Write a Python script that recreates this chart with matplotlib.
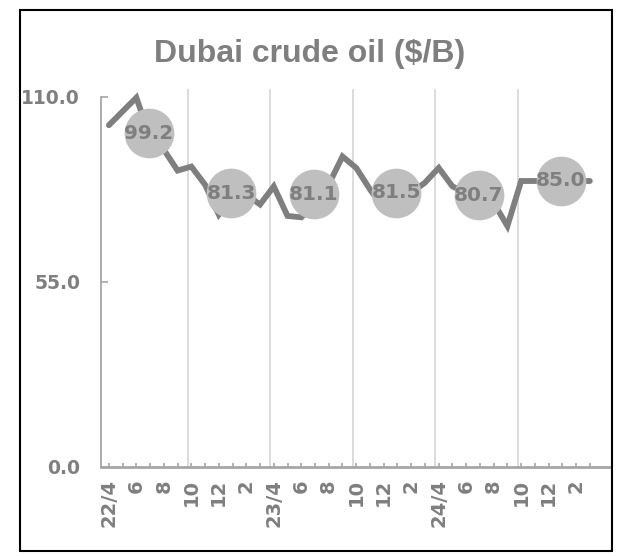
import matplotlib
matplotlib.use("Agg")
import matplotlib.pyplot as plt
from matplotlib.patches import Rectangle

# monthly Dubai crude, Apr 2022 .. Mar 2025 ($/B)
prices = [101.6, 105.7, 109.8, 98.0, 94.3, 88.1,
          89.3, 83.9, 75.0, 80.5, 81.0, 78.0,
          83.4, 74.6, 74.2, 78.0, 84.0, 92.3,
          88.9, 82.5, 76.8, 77.5, 81.5, 84.5,
          88.9, 83.4, 81.5, 81.5, 78.5, 71.6,
          85.0, 85.0, 85.0, 85.0, 85.0, 85.0]

# half-year averages
half_avg = [99.2, 81.3, 81.1, 81.5, 80.7, 85.0]

month_labels = ["22/4", "6", "8", "10", "12", "2",
                "23/4", "6", "8", "10", "12", "2",
                "24/4", "6", "8", "10", "12", "2"]

y_ticks = [0, 55, 110]

gray = "#7F7F7F"
light = "#BFBFBF"
axis_gray = "#A6A6A6"

fig = plt.figure(figsize=(6.19, 5.56), dpi=100)
ax = fig.add_axes([0.163, 0.1606, 0.821, 0.665])

n = len(prices)
idx = list(range(n))
half_start = list(range(0, n, 6))

ax.plot(idx, prices, color=gray, lw=4.2, zorder=2, clip_on=False,
        solid_joinstyle="miter", solid_capstyle="round")

bx = [s + 2.9 for s in half_start]
ax.scatter(bx, half_avg, s=1280, color=light, zorder=3, linewidths=0, clip_on=False)
for x, v in zip(bx, half_avg):
    ax.text(x, v, f"{v:.1f}", ha="center", va="center", fontsize=14.5,
            fontweight="bold", color=gray, zorder=4)

# half-year separators
for s in half_start[1:]:
    ax.axvline(s - 0.25, ymin=0, ymax=1.02, color="#D9D9D9", lw=1.3,
               zorder=1, clip_on=False)

ax.set_xlim(-0.58, 36.4)
ax.set_ylim(0, 110)

ax.set_yticks(y_ticks)
ax.set_yticklabels([f"{v:.1f}" for v in y_ticks])
ax.set_xticks(idx[::2])
ax.set_xticklabels(month_labels, rotation=90)
ax.set_xticks(idx, minor=True)

ax.tick_params(axis="y", direction="in", length=5, width=1.2, color=axis_gray,
               labelsize=13.5, labelcolor=gray, pad=15)
ax.tick_params(axis="x", which="both", direction="in", length=3, width=1.2,
               color=axis_gray, labelsize=14, labelcolor=gray, pad=9)
for lab in ax.get_xticklabels() + ax.get_yticklabels():
    lab.set_fontweight("bold")

for side in ["top", "right"]:
    ax.spines[side].set_visible(False)
ax.spines["left"].set_color(axis_gray)
ax.spines["left"].set_linewidth(1.3)
ax.spines["bottom"].set_color(axis_gray)
ax.spines["bottom"].set_linewidth(2)

fig.text(0.5, 0.903, "Dubai crude oil ($/B)", ha="center", va="center",
         fontsize=23, fontweight="bold", color=gray, family="Liberation Sans")

fig.patches.append(Rectangle((20 / 619, 5 / 556), 592 / 619, 541 / 556,
                             transform=fig.transFigure, fill=False,
                             edgecolor="black", lw=1.5))

fig.savefig("out.png", dpi=100)
